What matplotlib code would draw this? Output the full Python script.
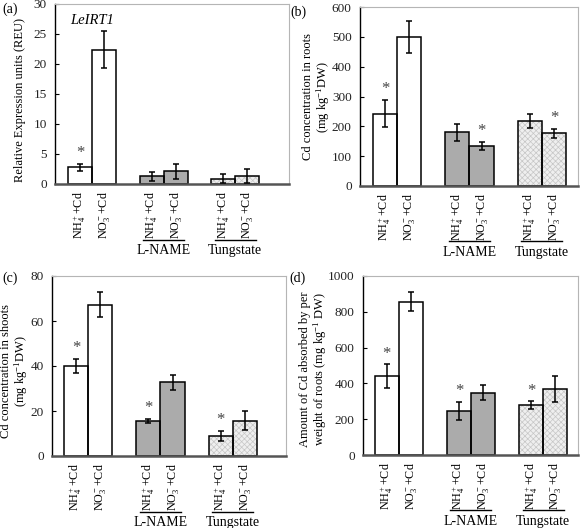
import numpy as np
import matplotlib
matplotlib.use('Agg')
import matplotlib.pyplot as plt
import matplotlib.transforms as mtransforms

plt.rcParams['font.family'] = ['Liberation Serif', 'DejaVu Serif']
plt.rcParams['mathtext.fontset'] = 'custom'
plt.rcParams['mathtext.rm'] = 'Liberation Serif'
plt.rcParams['mathtext.it'] = 'Liberation Serif:italic'
plt.rcParams['hatch.linewidth'] = 0.5

# treatments, two bars per group
bar_labels = ['NH$_4^+$+Cd', 'NO$_3^-$+Cd'] * 3
group_names = ['', 'L-NAME', 'Tungstate']

# (a) LeIRT1 expression
a_vals = [2.8, 22.4, 1.3, 2.1, 0.9, 1.3]
a_err = [0.6, 3.1, 0.75, 1.25, 0.8, 1.15]
a_star = [True, False, False, False, False, False]

# (b) Cd in roots
b_vals = [243, 500, 180, 134, 217, 176]
b_err = [46, 54, 28, 15, 23, 16]
b_star = [True, False, False, True, False, True]

# (c) Cd in shoots
c_vals = [40, 67.3, 15.5, 32.7, 8.9, 15.6]
c_err = [3.3, 5.6, 1.0, 3.3, 2.2, 4.2]
c_star = [True, False, True, False, True, False]

# (d) Cd absorbed per root weight
d_vals = [441, 855, 247, 349, 277, 370]
d_err = [65, 53, 50, 41, 22, 72]
d_star = [True, False, True, False, True, False]

xpos = np.array([-0.5, 0.5, 2.5, 3.5, 5.5, 6.5])
faces = ['white', 'white', '#ababab', '#ababab', '#efefef', '#efefef']
hatch_cols = ['white', 'white', '#ababab', '#ababab', '#c6c6c6', '#c6c6c6']
hatches = [None, None, None, None, 'xxxxxx', 'xxxxxx']

W, H = 582, 528
fig = plt.figure(figsize=(W / 100, H / 100), dpi=100)


def px_axes(l, r, t, b):
    return fig.add_axes([l / W, 1 - b / H, (r - l) / W, (b - t) / H])


def panel(ax, vals, err, stars, ymax, step, xlim):
    # fill + light hatch, then black outline on top
    ax.bar(xpos, vals, width=1.0, color=faces, edgecolor=hatch_cols,
           linewidth=0, hatch=hatches, zorder=2)
    ax.bar(xpos, vals, width=1.0, fill=False, edgecolor='black',
           linewidth=1.1, zorder=2.5)
    ax.errorbar(xpos, vals, yerr=err, fmt='none', ecolor='black',
                elinewidth=1.1, capsize=2.5, capthick=1.1, zorder=3)
    for x, v, e, s in zip(xpos, vals, err, stars):
        if s:
            ax.text(x, v + e + ymax * 0.015, '*', ha='center', va='bottom',
                    fontsize=12, color='#444444')
    ax.set_ylim(0, ymax)
    ax.set_xlim(*xlim)
    ax.set_yticks(np.arange(0, ymax + step / 2, step))
    ax.tick_params(axis='y', direction='in', length=3, labelsize=9.5, pad=6,
                   labelcolor='#222222')
    ax.set_xticks(xpos)
    ax.set_xticklabels(bar_labels, rotation=90, fontsize=8.7)
    ax.tick_params(axis='x', length=0, pad=5)
    ax.spines['left'].set_color('black')
    ax.spines['left'].set_linewidth(1.0)
    ax.spines['bottom'].set_color('#555555')
    ax.spines['bottom'].set_linewidth(1.8)
    ax.spines['top'].set_color('#b5b5b5')
    ax.spines['right'].set_color('#b5b5b5')
    trans = mtransforms.blended_transform_factory(ax.transData, ax.transAxes)
    for g, name in zip([0, 3, 6], group_names):
        if name:
            ax.plot([g - 0.85, g + 0.85], [-0.31, -0.31], color='black',
                    lw=1.0, transform=trans, clip_on=False)
            ax.text(g, -0.37, name, ha='center', va='center', fontsize=10,
                    transform=trans)


ax_a = px_axes(55, 289, 4, 184)
panel(ax_a, a_vals, a_err, a_star, 30, 5, (-1.55, 8.25))
ax_a.text(0.0, 27.3, 'LeIRT1', style='italic', fontsize=10.5, ha='center',
          va='center')

ax_b = px_axes(360, 578, 7, 186)
panel(ax_b, b_vals, b_err, b_star, 600, 100, (-1.54, 7.5))

ax_c = px_axes(52, 286, 276, 456)
panel(ax_c, c_vals, c_err, c_star, 80, 20, (-1.49, 8.2))

ax_d = px_axes(363, 578, 276, 455)
panel(ax_d, d_vals, d_err, d_star, 1000, 200, (-1.48, 7.44))

# panel letters
for lbl, x, y in [('(a)', 10, 9), ('(b)', 298, 12), ('(c)', 10, 278), ('(d)', 298, 278)]:
    fig.text(x / W, 1 - y / H, lbl, ha='center', va='center', fontsize=10)

# y labels
ylabels = [
    ('Relative Expression units (REU)', 20, 100),
    ('Cd concentration in roots\n(mg kg$^{-1}$DW)', 317, 97),
    ('Cd concentration in shoots\n(mg kg$^{-1}$DW)', 15, 371),
    ('Amount of Cd absorbed by per\nweight of roots (mg kg$^{-1}$ DW)', 314, 369),
]
for txt, x, y in ylabels:
    fig.text(x / W, 1 - y / H, txt, rotation=90, ha='center', va='center',
             fontsize=9, linespacing=1.05, multialignment='center')

fig.savefig('out.png', dpi=100)
